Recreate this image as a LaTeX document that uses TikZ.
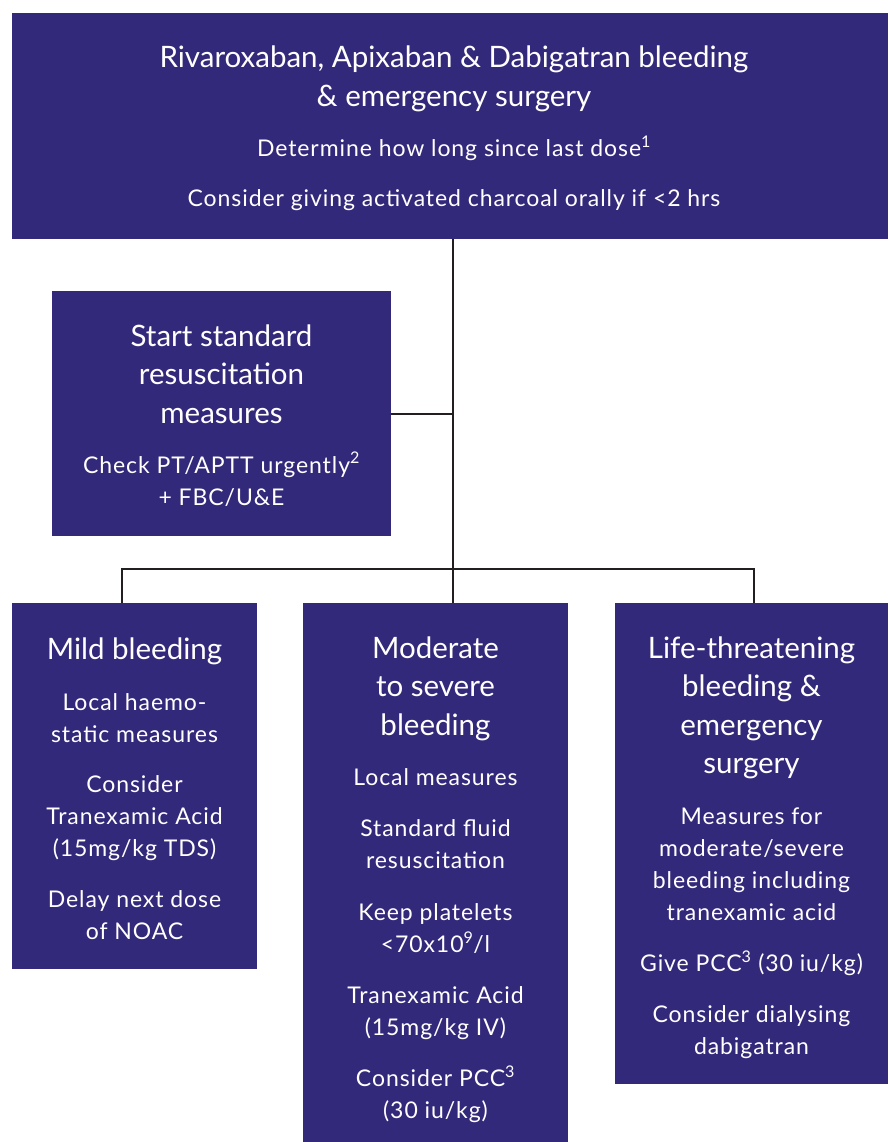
\documentclass[tikz,border=0pt]{standalone}
\usepackage{fontspec}
\setmainfont{Lato}
\definecolor{nhs}{RGB}{51,41,122}
\definecolor{lnk}{RGB}{35,31,32}
\newcommand\ml[1]{\begin{tabular}[t]{@{}c@{}}#1\end{tabular}}
\tikzset{
  box/.style={fill=nhs, draw=none, inner sep=0pt, anchor=north west},
  hd/.style={text=white, inner sep=0pt, anchor=base, font=\fontsize{29.5}{38.5}\selectfont},
  bd/.style={text=white, inner sep=0pt, anchor=base, font=\fontsize{23}{32}\selectfont\addfontfeature{LetterSpace=4}},
  link/.style={draw=lnk, line width=2.2pt}
}
\begin{document}
\begin{tikzpicture}[x=1pt,y=-1pt]
\useasboundingbox (0,0) rectangle (888,1142);
% boxes
\node[box, minimum width=876pt, minimum height=226pt] (top) at (12,13) {};
\node[box, minimum width=339pt, minimum height=245pt] (resus) at (52,291) {};
\node[box, minimum width=245pt, minimum height=366pt] (mild) at (12,603) {};
\node[box, minimum width=265pt, minimum height=539pt] (mod) at (303,603) {};
\node[box, minimum width=273pt, minimum height=481pt] (life) at (615,603) {};
% connectors
\coordinate (bus) at (453,569);
\coordinate (busL) at (122,569);
\coordinate (busR) at (754,569);
\draw[link] (top.south -| bus) -- (bus);
\draw[link] (resus.east) -- (resus.east -| bus);
\draw[link] (mild.north -| busL) -- (busL) -- (busR) -- (life.north -| busR);
\draw[link] (bus) -- (mod.north -| bus);
% top text
\node[hd, font=\fontsize{29.5}{39}\selectfont] (t1) at (454,68) {\ml{Rivaroxaban, Apixaban \& Dabigatran bleeding\\\& emergency surgery}};
\node[bd] (t2) at (454,157) {Determine how long since last dose\textsuperscript{1}};
\node[bd] (t3) at (454,207) {Consider giving activated charcoal orally if <2 hrs};
% resus text
\node[hd] (r1) at (221.5,346) {\ml{Start standard\\resuscitation\\measures}};
\node[bd] (r2) at (221.5,473) {\ml{Check PT/APTT urgently\textsuperscript{2}\\+ FBC/U\&E}};
% mild
\node[hd] (m1) at (134.5,659) {Mild bleeding};
\node[bd] (m2) at (134.5,710) {\ml{Local haemo-\\static measures}};
\node[bd] (m3) at (134.5,792) {\ml{Consider\\Tranexamic Acid\\(15mg/kg TDS)}};
\node[bd] (m4) at (134.5,907) {\ml{Delay next dose\\of NOAC}};
% moderate
\node[hd] (d1) at (435.5,658) {\ml{Moderate\\to severe\\bleeding}};
\node[bd] (d2) at (435.5,785.5) {Local measures};
\node[bd] (d3) at (435.5,836.5) {\ml{Standard fluid\\resuscitation}};
\node[bd] (d4) at (435.5,920.5) {\ml{Keep platelets\\<70x10\textsuperscript{9}/l}};
\node[bd] (d5) at (435.5,1003.5) {\ml{Tranexamic Acid\\(15mg/kg IV)}};
\node[bd] (d6) at (435.5,1086.5) {\ml{Consider PCC\textsuperscript{3}\\(30 iu/kg)}};
% life
\node[hd] (l1) at (751.5,658) {\ml{Life-threatening\\bleeding \&\\emergency\\surgery}};
\node[bd] (l2) at (751.5,824.5) {\ml{Measures for\\moderate/severe\\bleeding including\\tranexamic acid}};
\node[bd] (l3) at (751.5,971.5) {Give PCC\textsuperscript{3} (30 iu/kg)};
\node[bd] (l4) at (751.5,1022.5) {\ml{Consider dialysing\\dabigatran}};
\end{tikzpicture}
\end{document}
